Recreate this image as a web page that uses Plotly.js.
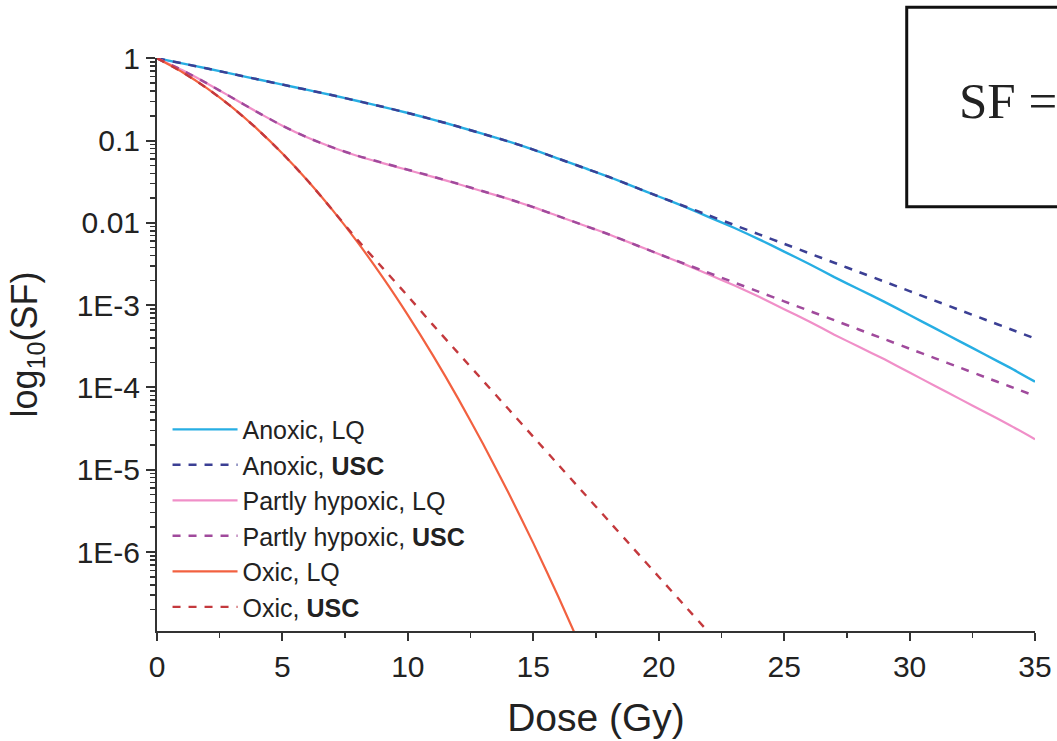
<!DOCTYPE html>
<html>
<head>
<meta charset="utf-8">
<script src="https://cdn.plot.ly/plotly-3.0.1.min.js"></script>
<style>
html,body{margin:0;padding:0;background:#fff;}
#chart{width:1057px;height:741px;}
</style>
</head>
<body>
<div id="chart"></div>
<script>
// Dose (Gy)
const doseFull = [0,1,2,3,4,5,6,7,8,9,10,11,12,13,14,15,16,17,18,19,20,21,22,23,24,25,26,27,28,29,30,31,32,33,34,35];
const doseOxicLQ = [0,1,2,3,4,5,6,7,8,9,10,11,12,13,14,15,16,17];
const doseOxicUSC = [0,1,2,3,4,5,6,7,8,9,10,11,12,13,14,15,16,17,18,19,20,21,22,23];

// log10(SF) values
const log10SF_anoxicLQ = [0,-0.062,-0.125,-0.19,-0.255,-0.32,-0.385,-0.45,-0.52,-0.59,-0.665,-0.745,-0.83,-0.92,-1.01,-1.11,-1.22,-1.33,-1.44,-1.56,-1.68,-1.80,-1.93,-2.06,-2.20,-2.35,-2.50,-2.66,-2.81,-2.96,-3.12,-3.28,-3.44,-3.60,-3.76,-3.93];
const log10SF_anoxicUSC = [0,-0.062,-0.125,-0.19,-0.255,-0.32,-0.385,-0.45,-0.52,-0.59,-0.665,-0.745,-0.83,-0.92,-1.01,-1.11,-1.22,-1.33,-1.44,-1.56,-1.68,-1.795,-1.91,-2.025,-2.14,-2.255,-2.37,-2.485,-2.60,-2.715,-2.83,-2.945,-3.06,-3.175,-3.29,-3.405];
const log10SF_partlyLQ = [0,-0.144,-0.306,-0.48,-0.655,-0.82,-0.964,-1.084,-1.187,-1.275,-1.358,-1.442,-1.528,-1.619,-1.709,-1.809,-1.919,-2.029,-2.139,-2.259,-2.379,-2.499,-2.629,-2.759,-2.899,-3.049,-3.199,-3.359,-3.509,-3.659,-3.819,-3.979,-4.139,-4.299,-4.459,-4.629];
const log10SF_partlyUSC = [0,-0.144,-0.306,-0.48,-0.655,-0.82,-0.964,-1.084,-1.185,-1.27,-1.354,-1.438,-1.526,-1.617,-1.708,-1.809,-1.919,-2.029,-2.139,-2.259,-2.379,-2.494,-2.609,-2.724,-2.839,-2.954,-3.069,-3.184,-3.299,-3.414,-3.529,-3.644,-3.759,-3.874,-3.989,-4.104];
const log10SF_oxicLQ = [0,-0.167,-0.366,-0.597,-0.861,-1.157,-1.485,-1.846,-2.238,-2.663,-3.121,-3.611,-4.133,-4.687,-5.274,-5.892,-6.543,-7.227];
const log10SF_oxicUSC = [0,-0.167,-0.366,-0.597,-0.861,-1.157,-1.485,-1.846,-2.21,-2.55,-2.89,-3.24,-3.58,-3.92,-4.26,-4.60,-4.94,-5.28,-5.62,-5.96,-6.30,-6.64,-6.98,-7.32];

const seriesNames = ['Anoxic, LQ','Anoxic, <b>USC</b>','Partly hypoxic, LQ','Partly hypoxic, <b>USC</b>','Oxic, LQ','Oxic, <b>USC</b>'];

// y-axis tick labels
const yTickVals = [1,0.1,0.01,1e-3,1e-4,1e-5,1e-6];
const yTickText = ['1','0.1','0.01','1E-3','1E-4','1E-5','1E-6'];

const toSF = arr => arr.map(v => Math.pow(10, v));

const minorVals = [];
for (let e = -7; e <= -1; e++) {
  for (let m = 2; m <= 9; m++) minorVals.push(m * Math.pow(10, e));
}

const FONT = 'Liberation Sans, Arial, Helvetica, sans-serif';
const DASH = '8px,8px';

const traces = [
  {x: doseFull, y: toSF(log10SF_anoxicLQ), name: seriesNames[0], line: {color: '#27aee3', width: 2.4}},
  {x: doseFull, y: toSF(log10SF_anoxicUSC), name: seriesNames[1], line: {color: '#3b3f94', width: 2.5, dash: DASH}},
  {x: doseFull, y: toSF(log10SF_partlyLQ), name: seriesNames[2], line: {color: '#f08fc8', width: 2.2}},
  {x: doseFull, y: toSF(log10SF_partlyUSC), name: seriesNames[3], line: {color: '#a04a9c', width: 2.5, dash: DASH}},
  {x: doseOxicLQ, y: toSF(log10SF_oxicLQ), name: seriesNames[4], line: {color: '#f26140', width: 2.2}},
  {x: doseOxicUSC, y: toSF(log10SF_oxicUSC), name: seriesNames[5], line: {color: '#c4393d', width: 2.4, dash: DASH}}
].map(t => Object.assign({type: 'scatter', mode: 'lines'}, t, {line: Object.assign({shape: 'spline', smoothing: 0.6}, t.line)}));

const layout = {
  width: 1057,
  height: 741,
  margin: {l: 157, r: 22, t: 58, b: 110},
  paper_bgcolor: '#ffffff',
  plot_bgcolor: '#ffffff',
  font: {family: FONT, color: '#222'},
  showlegend: true,
  legend: {
    x: 0.012, xanchor: 'left',
    y: 0.197, yanchor: 'middle',
    bgcolor: 'rgba(0,0,0,0)',
    font: {family: FONT, size: 25, color: '#222'},
    itemwidth: 65,
    tracegroupgap: 0
  },
  xaxis: {
    range: [0, 35],
    tick0: 0, dtick: 5,
    showline: true, linecolor: '#333', linewidth: 2,
    ticks: 'outside', ticklen: 8, tickwidth: 2, tickcolor: '#333',
    minor: {ticks: 'outside', dtick: 2.5, ticklen: 5, tickwidth: 1.5, tickcolor: '#333', showgrid: false},
    showgrid: false, zeroline: false,
    tickfont: {family: FONT, size: 30, color: '#222'},
    title: {text: 'Dose (Gy)', font: {family: FONT, size: 39, color: '#222'}, standoff: 22}
  },
  yaxis: {
    type: 'log',
    range: [-6.96, 0.003],
    tickmode: 'array', tickvals: yTickVals, ticktext: yTickText,
    showline: true, linecolor: '#333', linewidth: 2,
    ticks: 'outside', ticklen: 9, tickwidth: 2, tickcolor: '#333',
    minor: {tickmode: 'array', tickvals: minorVals, ticks: 'outside', ticklen: 5, tickwidth: 1.5, tickcolor: '#333', showgrid: false},
    showgrid: false, zeroline: false,
    tickfont: {family: FONT, size: 30, color: '#222'},
    title: {text: 'log<sub>10</sub>(SF)', font: {family: FONT, size: 36, color: '#222'}, standoff: 28}
  },
  shapes: [
    {type: 'rect', xref: 'paper', yref: 'paper', x0: 0.8539, x1: 1.2, y0: 0.7405, y1: 1.0885,
     line: {color: '#111', width: 3}, fillcolor: '#ffffff', layer: 'above'}
  ],
  annotations: [
    {xref: 'paper', yref: 'paper', x: 0.9112, y: 0.9253, xanchor: 'left', yanchor: 'middle',
     text: 'SF =', showarrow: false,
     font: {family: 'Liberation Serif, Times New Roman, serif', size: 51, color: '#222'}}
  ]
};

Plotly.newPlot('chart', traces, layout, {displayModeBar: false, staticPlot: true});
</script>
</body>
</html>
